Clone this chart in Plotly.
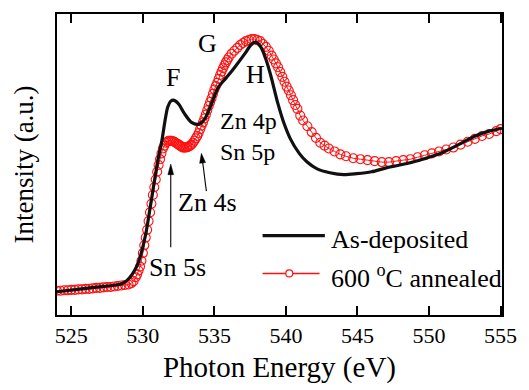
import plotly.graph_objects as go

# ---- data (photon energy in eV, intensity in arbitrary units) ----
energy_asdep = [524.0, 526.3, 528.49, 528.84, 529.25, 529.6, 529.87, 530.22, 530.5, 530.77,
                531.05, 531.33, 531.54, 531.74, 531.95, 532.15, 532.5, 532.91, 533.4, 533.88,
                534.3, 534.71, 535.26, 535.82, 536.37, 537.13, 537.55, 537.89, 538.24, 538.58,
                538.93, 539.41, 539.89, 540.31, 540.93, 541.48, 542.18, 543.07, 544.04, 544.94,
                545.98, 547.01, 548.6, 549.78, 550.95, 552.06, 553.23, 554.2, 555.1]
intensity_asdep = [24, 28, 32, 35, 42, 51, 63, 85, 110, 135,
                   160, 180, 200, 215, 221, 222, 218, 208, 199, 197,
                   202, 215, 235, 245, 255, 270, 279, 282, 277, 265,
                   248, 220, 197, 182, 167, 158, 151, 147, 145, 146,
                   148, 152, 157, 162, 168, 176, 185, 190, 193]

energy_annealed = [524.0, 524.25, 524.5, 524.75, 525.0, 525.25, 525.5, 525.75, 526.0, 526.25,
                   526.5, 526.75, 527.0, 527.25, 527.5, 527.75, 528.0, 528.25, 528.5, 528.75,
                   529.0, 529.2, 529.35, 529.5, 529.6, 529.7, 529.8, 529.9, 530.0, 530.1,
                   530.2, 530.3, 530.4, 530.5, 530.6, 530.7, 530.8, 530.9, 531.0, 531.1,
                   531.2, 531.3, 531.4, 531.5, 531.6, 531.7, 531.8, 531.9, 532.0, 532.1,
                   532.2, 532.3, 532.4, 532.5, 532.6, 532.7, 532.8, 532.9, 533.0, 533.1,
                   533.2, 533.3, 533.4, 533.5, 533.6, 533.7, 533.8, 533.9, 534.0, 534.1,
                   534.2, 534.3, 534.4, 534.5, 534.6, 534.7, 534.8, 534.9, 535.0, 535.1,
                   535.2, 535.3, 535.4, 535.5, 535.6, 535.7, 535.8, 535.9, 536.0, 536.2,
                   536.4, 536.6, 536.8, 537.0, 537.2, 537.4, 537.6, 537.8, 538.0, 538.2,
                   538.4, 538.6, 538.8, 539.0, 539.15, 539.3, 539.45, 539.6, 539.75, 539.9,
                   540.05, 540.2, 540.35, 540.5, 540.65, 540.8, 541.0, 541.2, 541.5, 541.8,
                   542.1, 542.4, 542.7, 543.0, 543.4, 543.8, 544.2, 544.7, 545.2, 545.7,
                   546.2, 546.7, 547.2, 547.7, 548.2, 548.7, 549.2, 549.7, 550.2, 550.7,
                   551.2, 551.7, 552.2, 552.7, 553.2, 553.7, 554.2, 554.7, 555.0]
intensity_annealed = [25, 25, 25.5, 25.5, 26, 26, 26.5, 26.5, 27, 27,
                      27.5, 28, 28, 28.5, 29, 29, 29.5, 30, 30.5, 31,
                      31.5, 33, 35, 39, 42, 46, 50, 56, 64, 72,
                      80, 88, 97, 106, 115, 124, 132, 140, 148, 155,
                      161, 167, 172, 175, 178, 179, 180, 180, 180, 179.5,
                      179, 178, 177, 176, 175, 174, 173, 173, 173, 173.5,
                      174, 175, 176, 178, 180, 182.5, 185, 188, 192, 195.5,
                      199, 203, 207, 211.5, 216, 220, 224, 228.5, 233, 236.5,
                      240, 244, 248, 251.5, 255, 258, 261, 263.5, 266, 270,
                      273, 276, 279, 281, 283, 284, 285, 285, 284, 283,
                      280, 277, 273, 268, 264, 260, 256, 251, 246, 241,
                      236, 232, 227, 222, 217, 213, 206, 201, 195, 189,
                      183, 178, 175, 172, 169, 166, 164, 162, 161, 160,
                      159, 158, 158, 159, 160, 161, 163, 165, 167, 169,
                      171, 173, 176, 179, 182, 185, 187, 190, 192]

x_ticks = [525, 530, 535, 540, 545, 550, 555]
series_names = ["As-deposited", "600 <sup>o</sup>C annealed"]

FONT = "Liberation Serif"
RED = "#ff1010"
INK = "#111111"

fig = go.Figure()
fig.add_trace(go.Scatter(
    x=energy_annealed, y=intensity_annealed, mode="lines+markers",
    line=dict(color=RED, width=1, shape="spline"),
    marker=dict(symbol="circle-open", size=9, color=RED, line=dict(width=1.1, color=RED)),
    name=series_names[1], showlegend=False))
fig.add_trace(go.Scatter(
    x=energy_asdep, y=intensity_asdep, mode="lines",
    line=dict(color=INK, width=3.2, shape="spline", smoothing=0.8),
    name=series_names[0], showlegend=False))

# ---- peak labels ----
labels = [
    dict(text="F", x=532.09, y=245, xanchor="center", size=26),
    dict(text="G", x=534.5, y=281, xanchor="center", size=26),
    dict(text="H", x=537.89, y=248, xanchor="center", size=26),
    dict(text="Zn 4p<br>Sn 5p", x=535.28, y=184, xanchor="left", size=24),
    dict(text="Zn 4s", x=532.29, y=116, xanchor="left", size=26),
    dict(text="Sn 5s", x=530.3, y=49, xanchor="left", size=26),
]
for lb in labels:
    fig.add_annotation(x=lb["x"], y=lb["y"], text=lb["text"], showarrow=False,
                       xanchor=lb["xanchor"], yanchor="middle", align="left",
                       font=dict(family=FONT, size=lb["size"], color="black"))

# ---- arrows (line + filled head) ----
fig.add_shape(type="line", xref="x", yref="y", x0=531.95, y0=70, x1=531.95, y1=146,
              line=dict(color="black", width=1.1))
fig.add_shape(type="path", xref="x", yref="y",
              path="M 531.95,156 L 531.75,145 L 532.15,145 Z",
              fillcolor="black", line=dict(color="black", width=0.5))
fig.add_shape(type="line", xref="x", yref="y", x0=534.44, y0=128, x1=534.18, y1=158,
              line=dict(color="black", width=1.1))
fig.add_shape(type="path", xref="x", yref="y",
              path="M 534.09,167 L 534.38,157.5 L 533.97,156.7 Z",
              fillcolor="black", line=dict(color="black", width=0.5))

# ---- legend drawn manually ----
fig.add_shape(type="line", xref="paper", yref="paper", x0=0.462, x1=0.602, y0=0.264, y1=0.264,
              line=dict(color=INK, width=3.2))
fig.add_shape(type="line", xref="paper", yref="paper", x0=0.462, x1=0.59, y0=0.138, y1=0.138,
              line=dict(color=RED, width=1.5))
fig.add_shape(type="circle", xref="paper", yref="paper", xsizemode="pixel", ysizemode="pixel",
              xanchor=0.522, yanchor=0.138, x0=-3.5, x1=3.5, y0=-3.5, y1=3.5,
              fillcolor="white", line=dict(color=RED, width=1.2))
fig.add_annotation(xref="paper", yref="paper", x=0.611, y=0.251, text=series_names[0],
                   showarrow=False, xanchor="left", yanchor="middle",
                   font=dict(family=FONT, size=26, color="black"))
fig.add_annotation(xref="paper", yref="paper", x=0.611, y=0.129, text=series_names[1],
                   showarrow=False, xanchor="left", yanchor="middle",
                   font=dict(family=FONT, size=26, color="black"))

fig.update_layout(
    width=529, height=390,
    margin=dict(l=57, r=22, t=14, b=65),
    paper_bgcolor="white", plot_bgcolor="white",
    font=dict(family=FONT, color="black"),
    xaxis=dict(range=[524, 555.1], tickvals=x_ticks, ticktext=[str(t) for t in x_ticks],
               ticks="inside", ticklen=9, tickwidth=2, tickcolor="black",
               showline=True, linewidth=2, linecolor="black", mirror="allticks",
               showgrid=False, zeroline=False,
               tickfont=dict(family=FONT, size=22, color="black"),
               title=dict(text="Photon Energy (eV)", standoff=9,
                          font=dict(family=FONT, size=29, color="black"))),
    yaxis=dict(range=[0, 311], showticklabels=False, ticks="",
               showline=True, linewidth=2, linecolor="black", mirror=True,
               showgrid=False, zeroline=False,
               title=dict(text="Intensity (a.u.)", standoff=14,
                          font=dict(family=FONT, size=27, color="black"))),
)

fig.write_html("out.html")
